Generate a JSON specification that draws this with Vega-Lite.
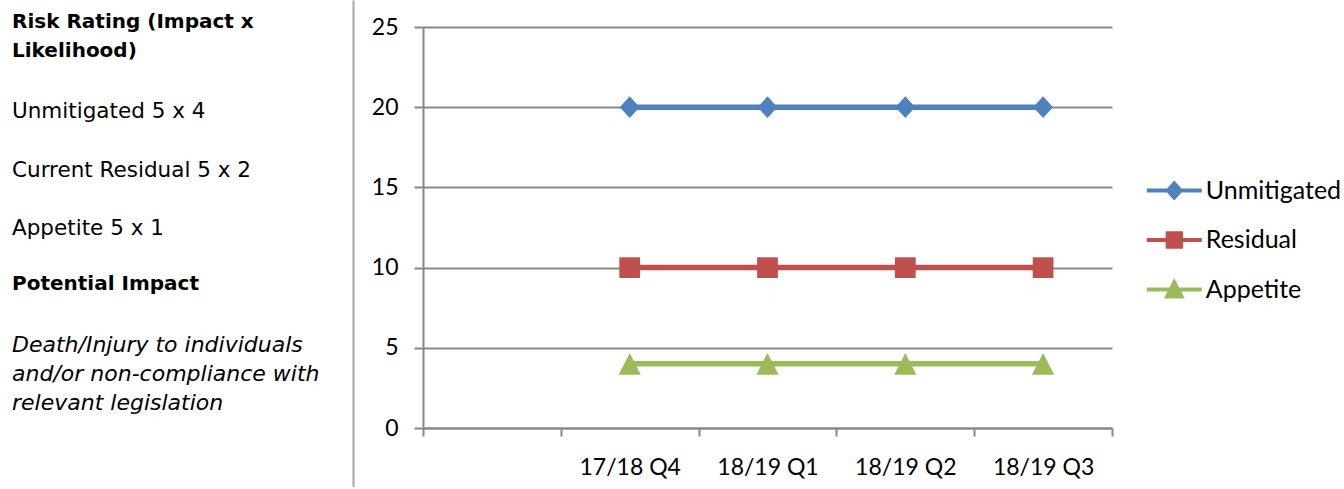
{
  "$schema": "https://vega.github.io/schema/vega-lite/v6.json",
  "background": "white",
  "padding": {"left": 12, "top": 0, "right": 0, "bottom": 0},
  "config": {"view": {"stroke": null}},
  "bounds": "flush",
  "spacing": 70,
  "hconcat": [
    {
      "width": 341,
      "height": 487,
      "data": {
        "values": [
          {"line": 0, "kind": "heading", "text": "Risk Rating (Impact x"},
          {"line": 1, "kind": "heading", "text": "Likelihood)"},
          {"line": 3, "kind": "body", "text": "Unmitigated 5 x 4"},
          {"line": 5, "kind": "body", "text": "Current Residual  5 x 2"},
          {"line": 7, "kind": "body", "text": "Appetite 5 x 1"},
          {"line": 9, "kind": "heading", "text": "Potential Impact"},
          {"line": 11, "kind": "note", "text": "Death/Injury to individuals"},
          {"line": 12, "kind": "note", "text": "and/or non-compliance with"},
          {"line": 13, "kind": "note", "text": "relevant legislation"}
        ]
      },
      "encoding": {
        "x": {"value": 0},
        "y": {
          "field": "line",
          "type": "quantitative",
          "scale": {"domain": [-1.056, 15.639], "reverse": true, "nice": false, "zero": false},
          "axis": {"orient": "right", "labels": false, "ticks": false, "grid": false, "title": null, "domainColor": "#a6a6a6", "domainWidth": 2}
        },
        "text": {"field": "text"}
      },
      "layer": [
        {
          "transform": [{"filter": "datum.kind === 'heading'"}],
          "mark": {"type": "text", "align": "left", "baseline": "alphabetic", "dy": -3, "font": "DejaVu Sans", "fontSize": 20, "fontWeight": "bold", "color": "#000000"}
        },
        {
          "transform": [{"filter": "datum.kind === 'body'"}],
          "mark": {"type": "text", "align": "left", "baseline": "alphabetic", "font": "DejaVu Sans", "fontSize": 21.5, "color": "#000000"}
        },
        {
          "transform": [{"filter": "datum.kind === 'note'"}],
          "mark": {"type": "text", "align": "left", "baseline": "alphabetic", "font": "DejaVu Sans", "fontSize": 22, "fontStyle": "italic", "color": "#000000"}
        }
      ]
    },
    {
      "width": 689,
      "height": 428,
      "data": {
        "values": [
          {"quarter": "17/18 Q4", "series": "Unmitigated", "value": 20},
          {"quarter": "18/19 Q1", "series": "Unmitigated", "value": 20},
          {"quarter": "18/19 Q2", "series": "Unmitigated", "value": 20},
          {"quarter": "18/19 Q3", "series": "Unmitigated", "value": 20},
          {"quarter": "17/18 Q4", "series": "Residual", "value": 10},
          {"quarter": "18/19 Q1", "series": "Residual", "value": 10},
          {"quarter": "18/19 Q2", "series": "Residual", "value": 10},
          {"quarter": "18/19 Q3", "series": "Residual", "value": 10},
          {"quarter": "17/18 Q4", "series": "Appetite", "value": 4},
          {"quarter": "18/19 Q1", "series": "Appetite", "value": 4},
          {"quarter": "18/19 Q2", "series": "Appetite", "value": 4},
          {"quarter": "18/19 Q3", "series": "Appetite", "value": 4}
        ]
      },
      "encoding": {
        "x": {
          "field": "quarter",
          "type": "nominal",
          "bandPosition": 0.5,
          "scale": {"type": "band", "domain": ["", "17/18 Q4", "18/19 Q1", "18/19 Q2", "18/19 Q3"], "paddingInner": 0, "paddingOuter": 0},
          "axis": {"tickBand": "extent", "labelAngle": 0, "labelFont": "Lato", "labelFontSize": 23, "labelColor": "#000000", "labelPadding": 20, "tickSize": 8, "tickColor": "#878787", "tickWidth": 2, "domainColor": "#878787", "domainWidth": 2, "title": null, "grid": false}
        },
        "y": {
          "field": "value",
          "type": "quantitative",
          "scale": {"domain": [0, 25], "range": [428, 27], "nice": false},
          "axis": {"values": [0, 5, 10, 15, 20, 25], "grid": true, "gridColor": "#878787", "gridWidth": 2, "domainColor": "#878787", "domainWidth": 2, "tickColor": "#878787", "tickWidth": 2, "tickSize": 9, "labelFont": "Lato", "labelFontSize": 23, "labelColor": "#000000", "labelPadding": 16, "title": null}
        },
        "color": {
          "field": "series",
          "type": "nominal",
          "scale": {"domain": ["Unmitigated", "Residual", "Appetite"], "range": ["#4F81BD", "#C0504D", "#9BBB59"]},
          "legend": {
            "orient": "none",
            "legendX": 1149.8,
            "legendY": 178,
            "title": null,
            "padding": 0,
            "labelFont": "Lato",
            "labelFontSize": 25,
            "labelColor": "#000000",
            "labelOffset": 19,
            "symbolSize": 177,
            "symbolStrokeWidth": 4,
            "rowPadding": 18.5,
            "encode": {
              "symbols": {
                "update": {
                  "fill": {"signal": "datum.value === 'Unmitigated' ? '#4F81BD' : datum.value === 'Residual' ? '#C0504D' : '#9BBB59'"},
                  "stroke": {"signal": "datum.value === 'Unmitigated' ? '#4F81BD' : datum.value === 'Residual' ? '#C0504D' : '#9BBB59'"},
                  "strokeWidth": {"value": 4},
                  "opacity": {"value": 1},
                  "fillOpacity": {"value": 1},
                  "strokeOpacity": {"value": 1}
                }
              }
            }
          }
        }
      },
      "layer": [
        {"mark": {"type": "line", "strokeWidth": 5.5}},
        {
          "mark": {"type": "point", "filled": true, "opacity": 1, "size": 430},
          "encoding": {
            "shape": {
              "field": "series",
              "type": "nominal",
              "scale": {"domain": ["Unmitigated", "Residual", "Appetite"], "range": ["M-4.13,0H4.13M0,-1.05L0.95,0L0,1.05L-0.95,0Z", "M-4.13,0H4.13M-1,-1H1V1H-1Z", "M-4.13,0H4.13M0,-1.05L1.07,1.05H-1.07Z"]},
              "legend": null
            }
          }
        }
      ]
    }
  ]
}
